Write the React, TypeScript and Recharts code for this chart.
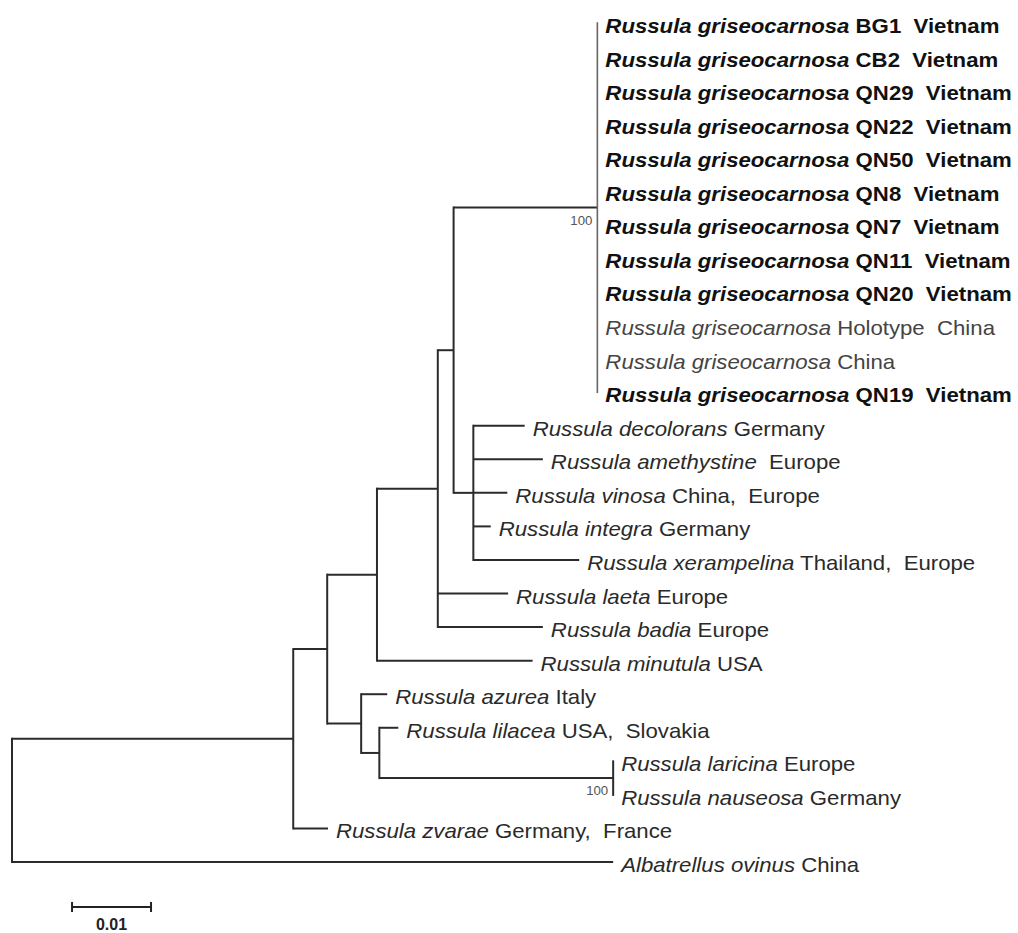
import React from 'react';
import { ScatterChart, Scatter, XAxis, YAxis, ReferenceLine } from 'recharts';

// ---- leaves (top to bottom) ----
const leafSpecies = [
  'Russula griseocarnosa', 'Russula griseocarnosa', 'Russula griseocarnosa', 'Russula griseocarnosa',
  'Russula griseocarnosa', 'Russula griseocarnosa', 'Russula griseocarnosa', 'Russula griseocarnosa',
  'Russula griseocarnosa', 'Russula griseocarnosa', 'Russula griseocarnosa', 'Russula griseocarnosa',
  'Russula decolorans', 'Russula amethystine', 'Russula vinosa', 'Russula integra',
  'Russula xerampelina', 'Russula laeta', 'Russula badia', 'Russula minutula',
  'Russula azurea', 'Russula lilacea', 'Russula laricina', 'Russula nauseosa',
  'Russula zvarae', 'Albatrellus ovinus',
];
const leafLocality = [
  'BG1  Vietnam', 'CB2  Vietnam', 'QN29  Vietnam', 'QN22  Vietnam',
  'QN50  Vietnam', 'QN8  Vietnam', 'QN7  Vietnam', 'QN11  Vietnam',
  'QN20  Vietnam', 'Holotype  China', 'China', 'QN19  Vietnam',
  'Germany', ' Europe', 'China,  Europe', 'Germany',
  'Thailand,  Europe', 'Europe', 'Europe', 'USA',
  'Italy', 'USA,  Slovakia', 'Europe', 'Germany',
  'Germany,  France', 'China',
];
const leafBold = [
  true, true, true, true, true, true, true, true, true, false, false, true,
  false, false, false, false, false, false, false, false, false, false, false, false, false, false,
];
const leafParent = [
  'H', 'H', 'H', 'H', 'H', 'H', 'H', 'H', 'H', 'H', 'H', 'H',
  'I', 'I', 'I', 'I', 'I', 'F', 'F', 'E', 'C', 'C2', 'D', 'D', 'A', 'root',
];
const leafBranch = [
  0, 0, 0, 0, 0, 0, 0, 0, 0, 0, 0, 0,
  0.0065, 0.0088, 0.0043, 0.0022, 0.0134, 0.0089, 0.0133, 0.0197,
  0.0033, 0.0024, 0, 0, 0.0044, 0.0761,
];

// ---- internal nodes ----
const nodeIds = ['root', 'A', 'B', 'E', 'F', 'G', 'H', 'I', 'C', 'C2', 'D'];
const nodeParent = [null, 'root', 'A', 'B', 'E', 'F', 'G', 'G', 'B', 'C', 'C2'];
const nodeBranch = [0, 0.0356, 0.0043, 0.0063, 0.0077, 0.002, 0.0182, 0.0025, 0.0043, 0.0023, 0.0296];
// children order (top to bottom)
const nodeChildren: Record<string, string[]> = {
  root: ['A', 'L25'],
  A: ['B', 'L24'],
  B: ['E', 'C'],
  E: ['F', 'L19'],
  F: ['G', 'L17', 'L18'],
  G: ['H', 'I'],
  H: ['L0', 'L1', 'L2', 'L3', 'L4', 'L5', 'L6', 'L7', 'L8', 'L9', 'L10', 'L11'],
  I: ['L12', 'L13', 'L14', 'L15', 'L16'],
  C: ['L20', 'C2'],
  C2: ['L21', 'D'],
  D: ['L22', 'L23'],
};

const bootstrapNodes = ['H', 'D'];
const bootstrapValues = ['100', '100'];

const scaleBarValue = 0.01;
const scaleBarLabel = '0.01';
const scaleBarStart = 0.0076;
const scaleBarRow = 26.34;

// ---- layout (tree positions from branch lengths) ----
type P = { x: number; y: number };
const pos: Record<string, P> = {};
const xOf: Record<string, number> = {};
const branchOf: Record<string, number> = {};
const parentOf: Record<string, string | null> = {};
nodeIds.forEach((id, i) => { branchOf[id] = nodeBranch[i]; parentOf[id] = nodeParent[i]; });
leafSpecies.forEach((_, i) => { branchOf['L' + i] = leafBranch[i]; parentOf['L' + i] = leafParent[i]; });
const getX = (id: string): number => {
  if (xOf[id] !== undefined) return xOf[id];
  const p = parentOf[id];
  const v = (p ? getX(p) : 0) + branchOf[id];
  xOf[id] = v;
  return v;
};
const getY = (id: string): number => {
  if (id.startsWith('L')) return Number(id.slice(1));
  const ch = nodeChildren[id];
  return (getY(ch[0]) + getY(ch[ch.length - 1])) / 2;
};
Object.keys(branchOf).forEach((id) => { pos[id] = { x: getX(id), y: getY(id) }; });

const segments: { a: P; b: P; v: boolean; light: boolean }[] = [];
Object.keys(branchOf).forEach((id) => {
  const p = parentOf[id];
  if (p && branchOf[id] > 0) segments.push({ a: { x: pos[p].x, y: pos[id].y }, b: { x: pos[id].x, y: pos[id].y }, v: false, light: false });
});
nodeIds.forEach((id) => {
  const ch = nodeChildren[id];
  segments.push({
    a: { x: pos[id].x, y: pos[ch[0]].y },
    b: { x: pos[id].x, y: pos[ch[ch.length - 1]].y },
    v: true,
    light: id === 'H',
  });
});

const leafData = leafSpecies.map((s, i) => ({
  x: pos['L' + i].x, y: pos['L' + i].y, species: s, loc: leafLocality[i], bold: leafBold[i],
}));
const bootData = bootstrapNodes.map((n, i) => ({ x: pos[n].x, y: pos[n].y, label: bootstrapValues[i] }));
const scaleLabelData = [{ x: scaleBarStart + scaleBarValue / 2, y: scaleBarRow, label: scaleBarLabel }];

const FONT = '"Liberation Sans", Arial, sans-serif';

const LeafLabel = (props: any) => {
  const { cx, cy, payload } = props;
  const greyish = !payload.bold && payload.species === 'Russula griseocarnosa';
  return (
    <text
      transform={`translate(${cx + 8},${cy + 10}) scale(1.11,1)`}
      fontFamily={FONT}
      fontSize={20}
      fontWeight={payload.bold ? 'bold' : 'normal'}
      fill={payload.bold ? '#111' : greyish ? '#444' : '#2a2a2a'}
      style={{ whiteSpace: 'pre' }}
      xmlSpace="preserve"
    >
      <tspan fontStyle="italic">{payload.species}</tspan>
      <tspan>{' ' + payload.loc}</tspan>
    </text>
  );
};

const BootLabel = (props: any) => {
  const { cx, cy, payload } = props;
  return (
    <text
      transform={`translate(${cx - 5},${cy + 17}) scale(1.1,1)`}
      fontFamily={FONT}
      fontSize={12}
      fill="#555"
      textAnchor="end"
    >
      {payload.label}
    </text>
  );
};

const ScaleLabel = (props: any) => {
  const { cx, cy, payload } = props;
  return (
    <text
      x={cx}
      y={cy + 23}
      fontFamily={FONT}
      fontSize={16}
      fontWeight="bold"
      fill="#222"
      textAnchor="middle"
    >
      {payload.label}
    </text>
  );
};

export default function App() {
  const tick = 0.15;
  return (
    <div style={{ position: 'absolute', left: 0, top: 0, background: '#fff' }}>
      <ScatterChart
        width={1018}
        height={933}
        margin={{ top: 0, right: 4, bottom: 0, left: 12 }}
      >
        <XAxis type="number" dataKey="x" domain={[0, 0.12684]} hide />
        <YAxis type="number" dataKey="y" domain={[-0.685, 27.115]} reversed hide />
        {segments.map((s, i) => (
          <ReferenceLine
            key={'s' + i}
            segment={[s.a, s.b]}
            stroke={s.light ? '#666' : '#2b2b2b'}
            strokeWidth={s.light ? 1.6 : 2}
            strokeLinecap={s.v ? 'square' : 'butt'}
            ifOverflow="visible"
          />
        ))}
        <ReferenceLine
          segment={[{ x: scaleBarStart, y: scaleBarRow }, { x: scaleBarStart + scaleBarValue, y: scaleBarRow }]}
          stroke="#222"
          strokeWidth={2}
          ifOverflow="visible"
        />
        <ReferenceLine
          segment={[{ x: scaleBarStart, y: scaleBarRow - tick }, { x: scaleBarStart, y: scaleBarRow + tick }]}
          stroke="#222"
          strokeWidth={2}
          ifOverflow="visible"
        />
        <ReferenceLine
          segment={[{ x: scaleBarStart + scaleBarValue, y: scaleBarRow - tick }, { x: scaleBarStart + scaleBarValue, y: scaleBarRow + tick }]}
          stroke="#222"
          strokeWidth={2}
          ifOverflow="visible"
        />
        <Scatter data={leafData} shape={LeafLabel} isAnimationActive={false} />
        <Scatter data={bootData} shape={BootLabel} isAnimationActive={false} />
        <Scatter data={scaleLabelData} shape={ScaleLabel} isAnimationActive={false} />
      </ScatterChart>
    </div>
  );
}
